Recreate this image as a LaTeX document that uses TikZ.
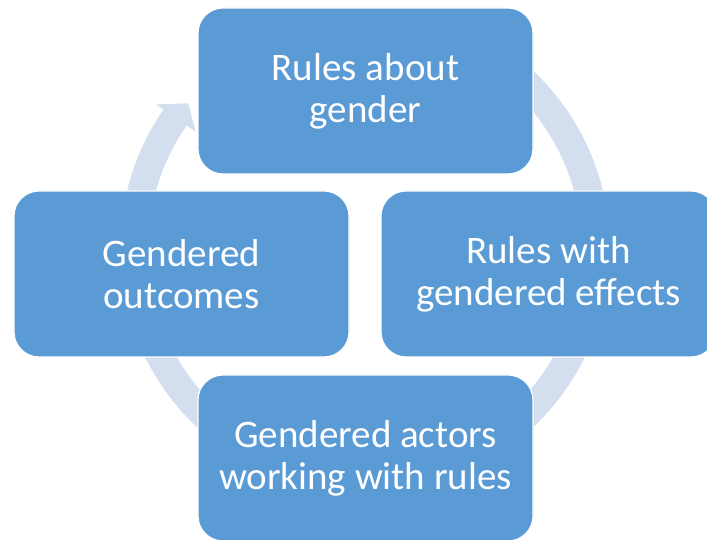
\documentclass[tikz,border=0pt]{standalone}
\usepackage{fontspec}
\setmainfont{Carlito}
\definecolor{boxblue}{HTML}{5B9BD5}
\definecolor{ringblue}{HTML}{D3DEEF}
\tikzset{
  box/.style={rectangle, rounded corners=25pt, fill=boxblue, draw=white, line width=1.2pt,
    minimum width=335pt, minimum height=166pt, text=white, align=center,
    font=\fontsize{39}{42}\selectfont, inner sep=0pt},
  ring/.style={draw=ringblue, line width=28pt}
}
\begin{document}
\begin{tikzpicture}[x=1pt,y=1pt]
\useasboundingbox (0,0) rectangle (707,540);
\clip (0,0) rectangle (707,540);
\coordinate (c) at (365,291);
\draw[ring] (c) ++(60:231) arc[start angle=60, end angle=-215, radius=231];
\fill[ringblue] ([shift={(c)}]145.3:254) -- ([shift={(c)}]140.5:229) -- ([shift={(c)}]145.3:206) -- cycle;
\node[box] (top) at (365.5,449) {Rules about\\gender};
\node[box] (left) at (181.5,266) {Gendered\\outcomes};
\node[box] (right) at (548.5,266) {Rules with\\gendered effects};
\node[box] (bottom) at (365.5,82) {Gendered actors\\working with rules};
\end{tikzpicture}
\end{document}
